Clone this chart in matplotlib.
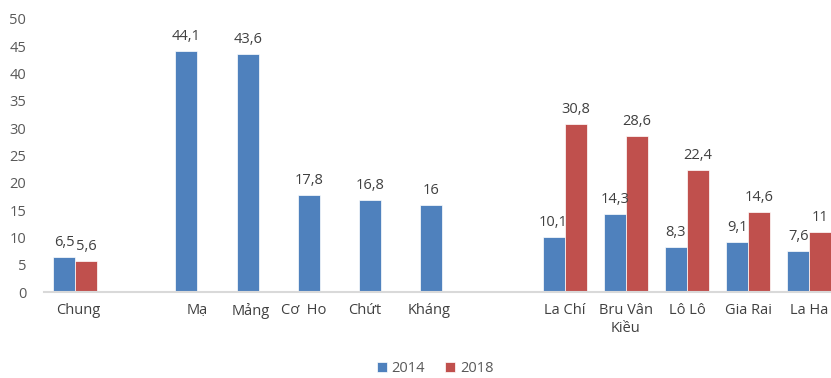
import matplotlib
matplotlib.use("Agg")
import matplotlib.pyplot as plt
import numpy as np

plt.rcParams['font.family'] = ['Open Sans', 'Noto Sans', 'DejaVu Sans']

categories = ["Chung", "", "Mạ", "Mảng", "Cơ  Ho", "Chứt", "Kháng", "",
              "La Chí", "Bru Vân\nKiều", "Lô Lô", "Gia Rai", "La Ha"]
v2014 = [6.5, None, 44.1, 43.6, 17.8, 16.8, 16.0, None, 10.1, 14.3, 8.3, 9.1, 7.6]
v2018 = [5.6, None, None, None, None, None, None, None, 30.8, 28.6, 22.4, 14.6, 11.0]
labels2014 = ["6,5", "", "44,1", "43,6", "17,8", "16,8", "16", "", "10,1", "14,3", "8,3", "9,1", "7,6"]
labels2018 = ["5,6", "", "", "", "", "", "", "", "30,8", "28,6", "22,4", "14,6", "11"]
label_shift = [0.05, 0, 0, -0.13, -0.26, -0.26, -0.21, 0, 0, 0, 0, 0, 0]
years = ["2014", "2018"]
colors = ["#4F81BD", "#C0504D"]

W, H = 831, 378
fig = plt.figure(figsize=(W / 100, H / 100), dpi=100)
left, right = 44.4 / W, 840 / W
bottom, top = (H - 292) / H, (H - 19) / H
ax = fig.add_axes([left, bottom, right - left, top - bottom])

x = np.arange(len(categories))
bw = 0.36
txtc = "#404040"
fs = 10.5
for vals, labs, off, col, yr in [(v2014, labels2014, -bw / 2, colors[0], years[0]),
                                  (v2018, labels2018, bw / 2, colors[1], years[1])]:
    xs = [xi + off for xi, v in zip(x, vals) if v is not None]
    ys = [v for v in vals if v is not None]
    ls = [l for l, v in zip(labs, vals) if v is not None]
    bars = ax.bar(xs, ys, width=bw, color=col, label=yr, edgecolor="white", linewidth=0.5)
    for b, l in zip(bars, ls):
        ax.annotate(l, (b.get_x() + b.get_width() / 2, b.get_height()),
                    xytext=(0, 5), textcoords="offset points",
                    ha="center", va="bottom", fontsize=fs, color=txtc)

ax.set_xlim(-0.5, len(categories) - 0.5)
ax.set_ylim(0, 50)
ax.set_yticks(np.arange(0, 51, 5))
ax.set_xticks(x + np.array(label_shift))
ax.set_xticklabels(categories, fontsize=fs, color=txtc, linespacing=1.25)
ax.tick_params(axis="x", length=0, pad=8)
ax.tick_params(axis="y", length=0, pad=13, labelsize=fs, labelcolor="#595959")
for s in ["top", "right", "left"]:
    ax.spines[s].set_visible(False)
ax.spines["bottom"].set_color("#D9D9D9")
ax.spines["bottom"].set_linewidth(1.5)

fig.legend(loc="lower center", bbox_to_anchor=(435 / W, -0.03), ncol=2, frameon=False,
           fontsize=fs, handlelength=0.7, handleheight=0.7, handletextpad=0.3,
           columnspacing=1.4, labelcolor="#595959")

fig.savefig("out.png", dpi=100)
